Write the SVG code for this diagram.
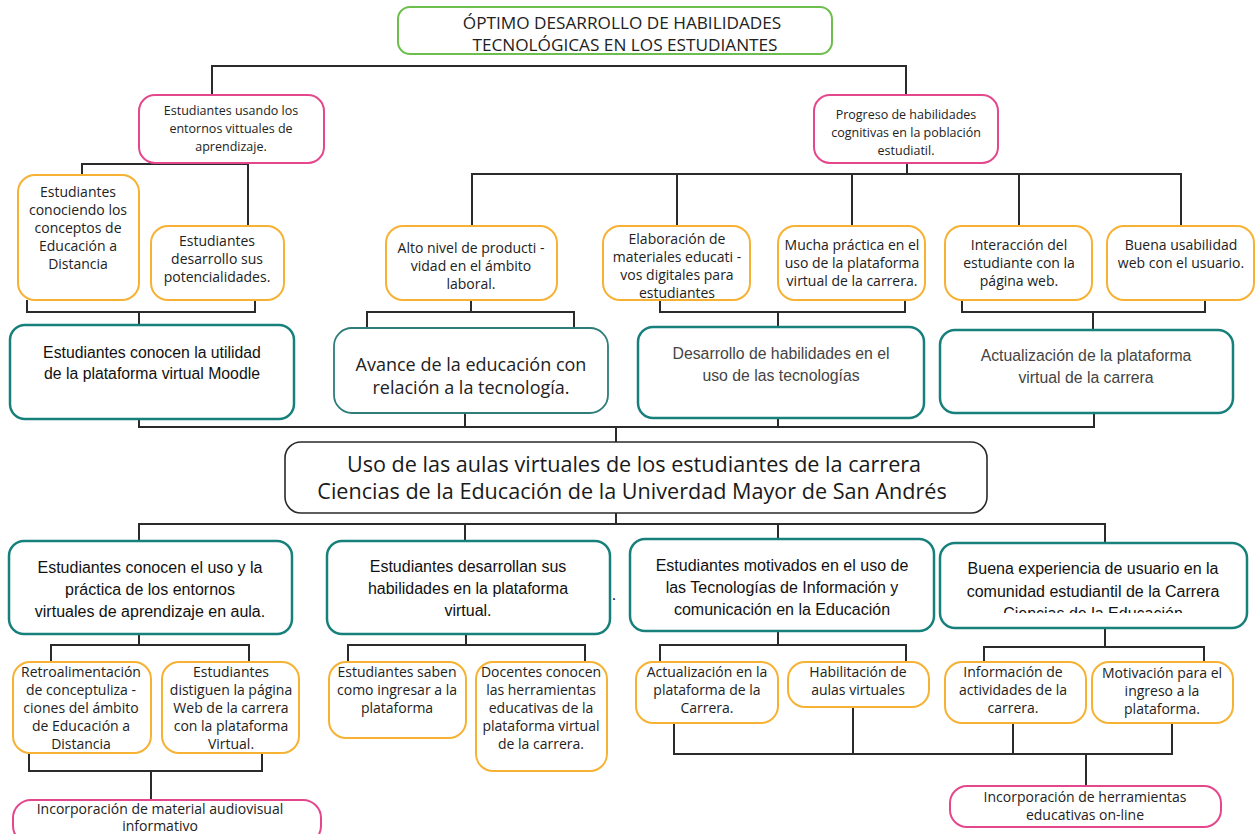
<svg xmlns="http://www.w3.org/2000/svg" width="1257" height="834" viewBox="0 0 1257 834">
<defs>
<style>
.bg{fill:#ffffff}
.g{fill:#fff;stroke:#6cbf4c;stroke-width:2}
.p{fill:#fff;stroke:#e5478d;stroke-width:2}
.o{fill:#fff;stroke:#f7b234;stroke-width:2}
.t{fill:#fff;stroke:#17807b;stroke-width:2.5}
.t2{fill:#fff;stroke:#2f7d79;stroke-width:1.8}
.k{fill:#fff;stroke:#2a2a2a;stroke-width:1.6}
.c{fill:none;stroke:#2b2b2b;stroke-width:2}
text{text-anchor:middle;fill:#222}
.my{font-family:"Open Sans","Noto Sans","Liberation Sans",sans-serif}
.ar{font-family:"Liberation Sans",Arial,sans-serif;fill:#111}
.ttl{font-size:17.2px}
.pk{font-size:12.5px}
.or{font-size:14px}
.tl{font-size:15.8px}
.gr{fill:#444}
.bt{font-size:16px}
.av{font-size:18px}
.cen{font-size:21.6px;fill:#1a1a1a}
</style>
<clipPath id="clipB4"><rect x="940" y="543" width="307" height="70"/></clipPath>
</defs>
<rect class="bg" x="0" y="0" width="1257" height="834"/>

<g id="connectors">
<path class="c" d="M212,95 V66 H906 V95"/>
<path class="c" d="M82,175 V164 H248 V226"/>
<path class="c" d="M27,300 V312 H255 V300 M139,312 V325"/>
<path class="c" d="M907,163 V174 M472,226 V174 H1181 V226 M677,174 V226 M852,174 V226 M1019,174 V226"/>
<path class="c" d="M471,300 V312 M367,328 V312 H574 V328"/>
<path class="c" d="M660,300 V312 H905 V300 M778,312 V327"/>
<path class="c" d="M962,300 V312 H1205 V300 M1093,312 V330"/>
<path class="c" d="M139,419 V427 H1094 V413 M465,413 V427 M778,418 V427 M616,427 V442"/>
<path class="c" d="M616,513 V524 M139,541 V524 H1105 V543 M465,524 V541 M778,524 V539"/>
<path class="c" d="M139,634 V645 M51,662 V645 H249 V662"/>
<path class="c" d="M29,753 V771 H262 V753 M151,771 V800"/>
<path class="c" d="M466,634 V645 M348,662 V645 H585 V662"/>
<path class="c" d="M778,631 V645 M660,662 V645 H906 V662"/>
<path class="c" d="M1105,628 V647 M984,662 V647 H1204 V662"/>
<path class="c" d="M674,723 V754 H1172 V723 M853,707 V754 M1013,723 V754 M1086,754 V786"/>
</g>

<g id="n-title">
<rect class="g" x="398" y="7" width="434" height="47" rx="12"/>
<text class="my ttl" x="622" y="29">ÓPTIMO DESARROLLO DE HABILIDADES</text>
<text class="my ttl" x="625" y="51">TECNOLÓGICAS EN LOS ESTUDIANTES</text>
</g>

<g id="n-pink-left">
<rect class="p" x="139" y="95" width="185" height="68" rx="16"/>
<text class="my pk" x="231" y="115">Estudiantes usando los</text>
<text class="my pk" x="231" y="133">entornos vittuales de</text>
<text class="my pk" x="231" y="151">aprendizaje.</text>
</g>

<g id="n-pink-right">
<rect class="p" x="814" y="95" width="184" height="68" rx="16"/>
<text class="my pk" x="906" y="119">Progreso de habilidades</text>
<text class="my pk" x="906" y="137">cognitivas en la población</text>
<text class="my pk" x="906" y="155">estudiatil.</text>
</g>

<g id="n-o-conociendo">
<rect class="o" x="18" y="175" width="121" height="125" rx="17"/>
<text class="my or" x="78" y="197">Estudiantes</text>
<text class="my or" x="78" y="215">conociendo los</text>
<text class="my or" x="78" y="233">conceptos de</text>
<text class="my or" x="78" y="251">Educación a</text>
<text class="my or" x="78" y="269">Distancia</text>
</g>

<g id="n-o-desarrollo">
<rect class="o" x="151" y="226" width="133" height="74" rx="17"/>
<text class="my or" x="217" y="246">Estudiantes</text>
<text class="my or" x="217" y="264">desarrollo sus</text>
<text class="my or" x="217" y="282">potencialidades.</text>
</g>

<g id="n-o-alto">
<rect class="o" x="386" y="226" width="171" height="74" rx="17"/>
<text class="my or" x="471" y="253">Alto nivel de producti -</text>
<text class="my or" x="471" y="271">vidad en el ámbito</text>
<text class="my or" x="471" y="289">laboral.</text>
</g>

<g id="n-o-elaboracion">
<rect class="o" x="603" y="226" width="147" height="74" rx="17"/>
<text class="my or" x="677" y="244">Elaboración de</text>
<text class="my or" x="677" y="262">materiales educati -</text>
<text class="my or" x="677" y="280">vos digitales para</text>
<text class="my or" x="677" y="298">estudiantes</text>
</g>

<g id="n-o-mucha">
<rect class="o" x="778" y="226" width="147" height="74" rx="17"/>
<text class="my or" x="852" y="250">Mucha práctica en el</text>
<text class="my or" x="852" y="268">uso de la plataforma</text>
<text class="my or" x="852" y="286">virtual de la carrera.</text>
</g>

<g id="n-o-interaccion">
<rect class="o" x="945" y="226" width="147" height="74" rx="17"/>
<text class="my or" x="1019" y="250">Interacción del</text>
<text class="my or" x="1019" y="268">estudiante con la</text>
<text class="my or" x="1019" y="286">página web.</text>
</g>

<g id="n-o-usabilidad">
<rect class="o" x="1107" y="226" width="147" height="74" rx="17"/>
<text class="my or" x="1181" y="250">Buena usabilidad</text>
<text class="my or" x="1181" y="268">web con el usuario.</text>
</g>

<g id="n-t-moodle">
<rect class="t" x="10" y="325" width="284" height="94" rx="15"/>
<text class="ar tl" x="152" y="357.5">Estudiantes conocen la utilidad</text>
<text class="ar tl" x="152" y="379">de la plataforma virtual Moodle</text>
</g>

<g id="n-t-avance">
<rect class="t2" x="334" y="328" width="274" height="85" rx="18"/>
<text class="my av" x="471" y="371">Avance de la educación con</text>
<text class="my av" x="471" y="393.5">relación a la tecnología.</text>
</g>

<g id="n-t-desarrollo">
<rect class="t" x="638" y="327" width="286" height="91" rx="15"/>
<text class="ar tl gr" x="781" y="358.5">Desarrollo de habilidades en el</text>
<text class="ar tl gr" x="781" y="380.5">uso de las tecnologías</text>
</g>

<g id="n-t-actualizacion">
<rect class="t" x="940" y="330" width="293" height="83" rx="15"/>
<text class="ar tl gr" x="1086" y="360.5">Actualización de la plataforma</text>
<text class="ar tl gr" x="1086" y="382.5">virtual de la carrera</text>
</g>

<g id="n-central">
<rect class="k" x="285" y="442" width="702" height="71" rx="16"/>
<text class="my cen" x="634" y="472">Uso de las aulas virtuales de los estudiantes de la carrera</text>
<text class="my cen" x="632" y="499">Ciencias de la Educación de la Univerdad Mayor de San Andrés</text>
</g>

<g id="n-b1">
<rect class="t" x="9" y="541" width="283" height="93" rx="15"/>
<text class="ar bt" x="150" y="573">Estudiantes conocen el uso y la</text>
<text class="ar bt" x="150" y="595">práctica de los entornos</text>
<text class="ar bt" x="150" y="617">virtuales de aprendizaje en aula.</text>
</g>

<g id="n-b2">
<rect class="t" x="327" y="541" width="283" height="93" rx="15"/>
<text class="ar bt" x="468" y="572">Estudiantes desarrollan sus</text>
<text class="ar bt" x="468" y="594">habilidades en la plataforma</text>
<text class="ar bt" x="468" y="616">virtual.</text>
<text class="ar bt" x="614" y="600">.</text>
</g>

<g id="n-b3">
<rect class="t" x="630" y="539" width="304" height="92" rx="15"/>
<text class="ar bt" x="782" y="571">Estudiantes motivados en el uso de</text>
<text class="ar bt" x="782" y="593">las Tecnologías de Información y</text>
<text class="ar bt" x="782" y="615">comunicación en la Educación</text>
</g>

<g id="n-b4">
<rect class="t" x="940" y="543" width="307" height="85" rx="15"/>
<text class="ar bt" x="1093" y="574">Buena experiencia de usuario en la</text>
<text class="ar bt" x="1093" y="597">comunidad estudiantil de la Carrera</text>
<text class="ar bt" x="1093" y="619" clip-path="url(#clipB4)">Ciencias de la Educación</text>
</g>

<g id="n-o-retro">
<rect class="o" x="13" y="662" width="138" height="91" rx="17"/>
<text class="my or" x="81" y="677">Retroalimentación</text>
<text class="my or" x="81" y="695">de conceptuliza -</text>
<text class="my or" x="81" y="713">ciones del ámbito</text>
<text class="my or" x="81" y="731">de Educación a</text>
<text class="my or" x="81" y="749">Distancia</text>
</g>

<g id="n-o-distiguen">
<rect class="o" x="162" y="662" width="137" height="91" rx="17"/>
<text class="my or" x="231" y="677">Estudiantes</text>
<text class="my or" x="231" y="695">distiguen la página</text>
<text class="my or" x="231" y="713">Web de la carrera</text>
<text class="my or" x="231" y="731">con la plataforma</text>
<text class="my or" x="231" y="749">Virtual.</text>
</g>

<g id="n-o-saben">
<rect class="o" x="329" y="662" width="137" height="76" rx="17"/>
<text class="my or" x="397" y="677">Estudiantes saben</text>
<text class="my or" x="397" y="695">como ingresar a la</text>
<text class="my or" x="397" y="713">plataforma</text>
</g>

<g id="n-o-docentes">
<rect class="o" x="476" y="662" width="131" height="109" rx="17"/>
<text class="my or" x="541" y="677">Docentes conocen</text>
<text class="my or" x="541" y="695">las herramientas</text>
<text class="my or" x="541" y="713">educativas de la</text>
<text class="my or" x="541" y="731">plataforma virtual</text>
<text class="my or" x="541" y="749">de la carrera.</text>
</g>

<g id="n-o-actualizacion">
<rect class="o" x="636" y="662" width="142" height="61" rx="17"/>
<text class="my or" x="707" y="677">Actualización en la</text>
<text class="my or" x="707" y="695">plataforma de la</text>
<text class="my or" x="707" y="713">Carrera.</text>
</g>

<g id="n-o-habilitacion">
<rect class="o" x="788" y="662" width="141" height="45" rx="17"/>
<text class="my or" x="858" y="677">Habilitación de</text>
<text class="my or" x="858" y="695">aulas virtuales</text>
</g>

<g id="n-o-informacion">
<rect class="o" x="945" y="662" width="141" height="61" rx="17"/>
<text class="my or" x="1013" y="677">Información de</text>
<text class="my or" x="1013" y="695">actividades de la</text>
<text class="my or" x="1013" y="713">carrera.</text>
</g>

<g id="n-o-motivacion">
<rect class="o" x="1092" y="662" width="141" height="61" rx="17"/>
<text class="my or" x="1162" y="678">Motivación para el</text>
<text class="my or" x="1162" y="696">ingreso a la</text>
<text class="my or" x="1162" y="714">plataforma.</text>
</g>

<g id="n-p-audiovisual">
<rect class="p" x="13" y="800" width="308" height="44" rx="18"/>
<text class="my or" x="160" y="814">Incorporación de material audiovisual</text>
<text class="my or" x="160" y="831">informativo</text>
</g>

<g id="n-p-herramientas">
<rect class="p" x="950" y="786" width="271" height="41" rx="17"/>
<text class="my or" x="1085" y="802">Incorporación de herramientas</text>
<text class="my or" x="1085" y="820">educativas on-line</text>
</g>
</svg>
